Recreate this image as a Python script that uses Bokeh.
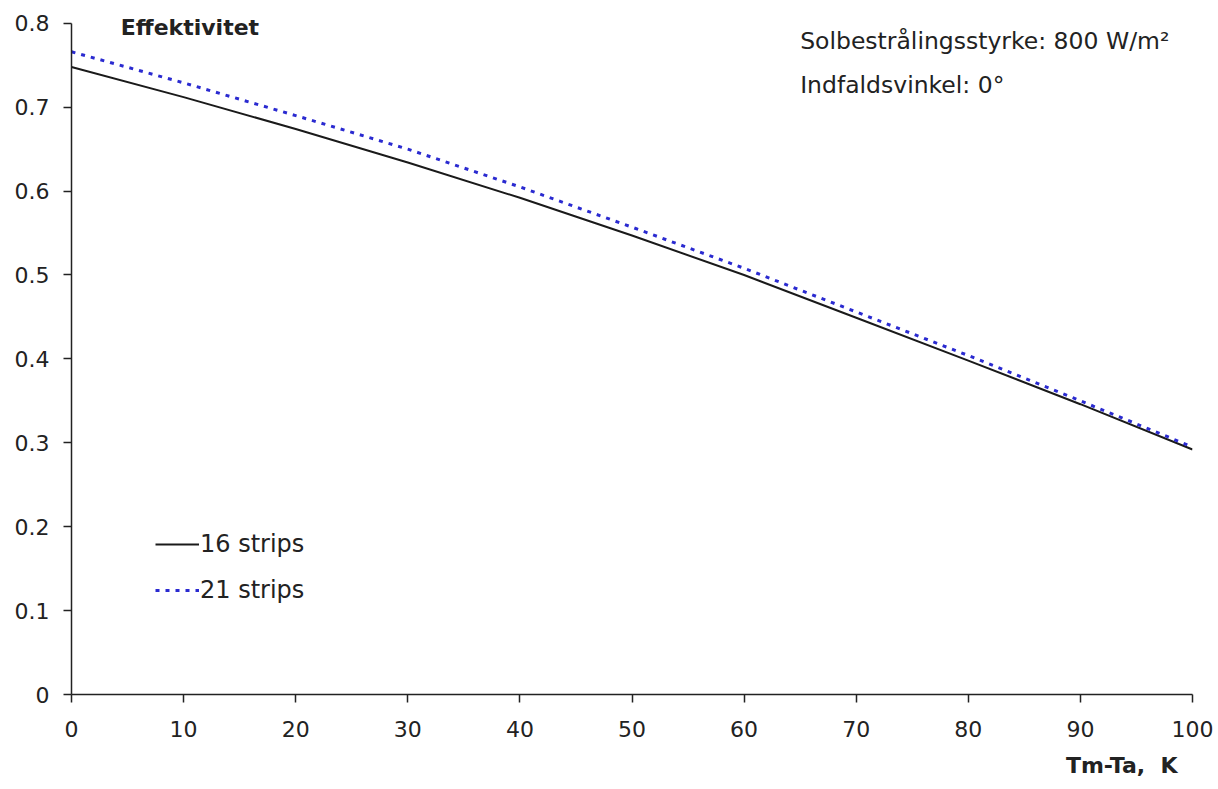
from bokeh.plotting import figure
from bokeh.models import Label, Legend, LegendItem, FixedTicker, Range1d, Title
from bokeh.embed import file_html
from bokeh.resources import INLINE

# Data
temp_diff = [0, 10, 20, 30, 40, 50, 60, 70, 80, 90, 100]
eff_16 = [0.748, 0.712, 0.674, 0.634, 0.592, 0.547, 0.500, 0.449, 0.398, 0.346, 0.292]
eff_21 = [0.766, 0.729, 0.690, 0.650, 0.605, 0.557, 0.508, 0.456, 0.404, 0.350, 0.295]
series_names = ["16 strips", "21 strips"]

x_ticks = [0, 10, 20, 30, 40, 50, 60, 70, 80, 90, 100]
y_ticks = [0, 0.1, 0.2, 0.3, 0.4, 0.5, 0.6, 0.7, 0.8]
y_tick_labels = ["0", "0.1", "0.2", "0.3", "0.4", "0.5", "0.6", "0.7", "0.8"]

FONT = "DejaVu Sans"
TXT = "#222222"

p = figure(width=1215, height=789, output_backend="svg", toolbar_location=None,
           x_range=Range1d(0, 100), y_range=Range1d(0, 0.82),
           min_border_left=71, min_border_right=23, min_border_top=6, min_border_bottom=95)
p.outline_line_color = None
p.grid.visible = False
p.background_fill_color = "white"
p.border_fill_color = "white"

for ax in (p.xaxis[0], p.yaxis[0]):
    ax.axis_line_color = TXT
    ax.axis_line_width = 1.5
    ax.major_tick_line_color = TXT
    ax.major_tick_line_width = 1.5
    ax.major_tick_out = 8
    ax.major_tick_in = 0
    ax.minor_tick_line_color = None
    ax.major_label_text_font = FONT
    ax.major_label_text_font_size = "22px"
    ax.major_label_text_color = TXT

p.yaxis.bounds = (0, 0.8)
p.xaxis.ticker = FixedTicker(ticks=x_ticks)
p.yaxis.ticker = FixedTicker(ticks=y_ticks)
p.yaxis.major_label_overrides = {t: l for t, l in zip(y_ticks, y_tick_labels)}
p.xaxis.major_label_standoff = 18
p.yaxis.major_label_standoff = 14

r16 = p.line(temp_diff, eff_16, line_color="#1a1a1a", line_width=2)
r21 = p.line(temp_diff, eff_21, line_color="#2a2ad0", line_width=3, line_dash="4 6")

legend = Legend(items=[LegendItem(label=series_names[0], renderers=[r16]),
                       LegendItem(label=series_names[1], renderers=[r21])],
                location=(84, 90), orientation="vertical",
                background_fill_alpha=0, border_line_color=None,
                padding=0, margin=0, spacing=18,
                glyph_width=44, glyph_height=28, label_height=28, label_standoff=1,
                label_text_font=FONT, label_text_font_size="24px", label_text_color=TXT)
p.add_layout(legend)

p.add_layout(Label(x=4.4, y=0.795, text="Effektivitet", text_font=FONT, text_font_style="bold",
                   text_font_size="22px", text_color=TXT, text_baseline="middle"))
p.add_layout(Label(x=65.0, y=0.779, text="Solbestrålingsstyrke: 800 W/m²", text_font=FONT,
                   text_font_size="23.5px", text_color=TXT, text_baseline="middle"))
p.add_layout(Label(x=65.0, y=0.727, text="Indfaldsvinkel: 0°", text_font=FONT,
                   text_font_size="23.5px", text_color=TXT, text_baseline="middle"))

xt = Title(text="Tm-Ta,\u00a0 K", align="right", offset=15, standoff=23,
           text_font=FONT, text_font_style="bold", text_font_size="22px", text_color=TXT)
p.add_layout(xt, "below")

open("out.html", "w").write(file_html(p, INLINE))
